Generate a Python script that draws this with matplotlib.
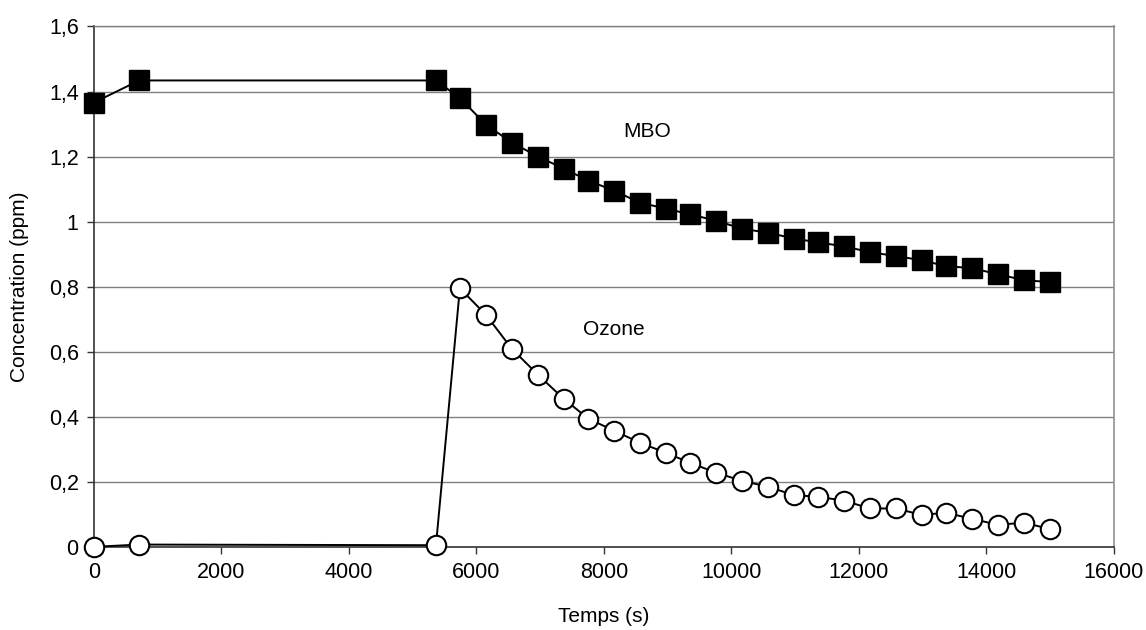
import matplotlib
matplotlib.use("Agg")
import matplotlib.pyplot as plt
from matplotlib.ticker import FuncFormatter, MultipleLocator

plt.rcParams['font.family'] = ['Liberation Sans', 'DejaVu Sans']

# Temps (s)
temps = [0, 710, 5365, 5740, 6150, 6555, 6965, 7370, 7755, 8160, 8565, 8975,
         9355, 9760, 10165, 10570, 10980, 11360, 11765, 12175, 12580, 12990,
         13365, 13775, 14180, 14590, 14995]

# Concentrations (ppm)
mbo = [1.366, 1.434, 1.434, 1.380, 1.298, 1.243, 1.200, 1.163, 1.126, 1.095,
       1.058, 1.040, 1.022, 1.003, 0.978, 0.966, 0.948, 0.936, 0.924, 0.906,
       0.894, 0.881, 0.863, 0.857, 0.838, 0.820, 0.814]
ozone = [0.0, 0.007, 0.005, 0.795, 0.713, 0.609, 0.529, 0.455, 0.394, 0.357,
         0.320, 0.289, 0.258, 0.228, 0.203, 0.185, 0.159, 0.154, 0.142, 0.118,
         0.118, 0.098, 0.105, 0.086, 0.068, 0.074, 0.055]

fig = plt.figure(figsize=(11.46, 6.30), dpi=100)
ax = fig.add_axes([0.082, 0.132, 0.890, 0.826])

ax.plot(temps, mbo, color='black', lw=1.4, marker='s', markersize=15,
        markerfacecolor='black', markeredgecolor='black', clip_on=False, zorder=4)
ax.plot(temps, ozone, color='black', lw=1.4, marker='o', markersize=14,
        markerfacecolor='white', markeredgecolor='black', markeredgewidth=1.5,
        clip_on=False, zorder=4)

ax.text(8675, 1.276, 'MBO', fontsize=15, ha='center', va='center')
ax.text(8160, 0.667, 'Ozone', fontsize=15, ha='center', va='center')

ax.set_xlim(0, 16000)
ax.set_ylim(0, 1.6)
ax.xaxis.set_major_locator(MultipleLocator(2000))
ax.yaxis.set_major_locator(MultipleLocator(0.2))
ax.yaxis.set_major_formatter(FuncFormatter(lambda v, p: f"{v:g}".replace('.', ',')))

ax.grid(axis='y', color='#808080', lw=1.0)
ax.set_axisbelow(True)
for side in ['left', 'bottom']:
    ax.spines[side].set_color('#333333')
    ax.spines[side].set_linewidth(1.2)
ax.spines['right'].set_color('#909090')
ax.spines['right'].set_linewidth(1.2)
ax.spines['top'].set_color('#808080')
ax.spines['top'].set_linewidth(1.0)

ax.tick_params(axis='both', direction='out', length=5, width=1, color='#333333',
               labelsize=15.5, pad=6)

ax.set_xlabel('Temps (s)', fontsize=15, labelpad=17)
ax.set_ylabel('Concentration (ppm)', fontsize=15, labelpad=14)

fig.savefig('out.png', dpi=100, facecolor='white')
